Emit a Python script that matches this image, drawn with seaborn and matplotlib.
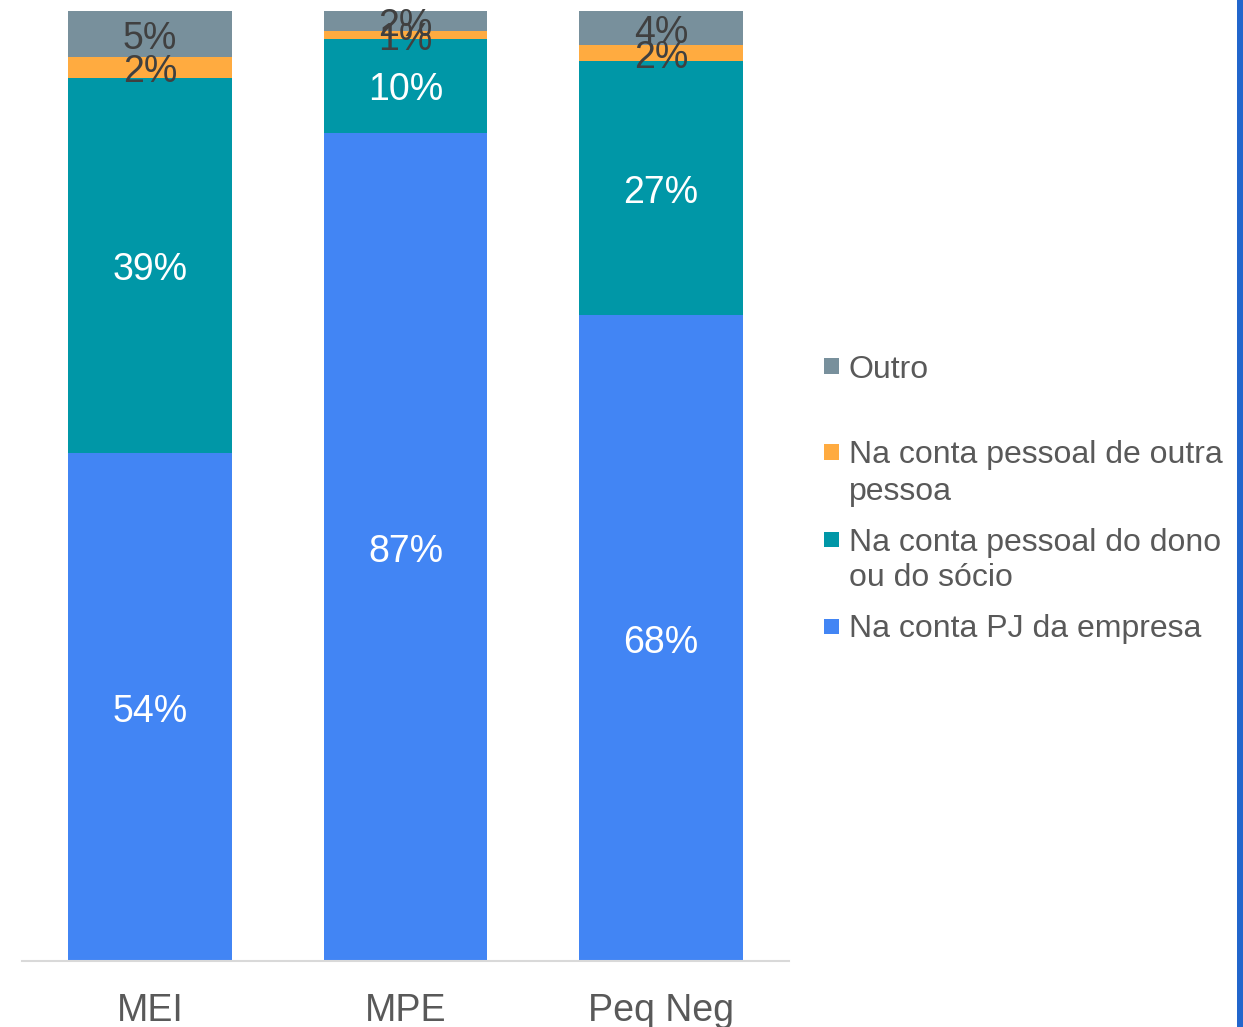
import matplotlib
matplotlib.use("Agg")
import matplotlib.pyplot as plt
from matplotlib.patches import Rectangle
import numpy as np
import pandas as pd
import seaborn as sns

# ---- data ----
categories = ["MEI", "MPE", "Peq Neg"]
series_names = ["Na conta PJ da empresa",
                "Na conta pessoal do dono\nou do sócio",
                "Na conta pessoal de outra\npessoa",
                "Outro"]
pj_empresa = [53.5, 87.2, 68.0]
pessoal_dono = [39.4, 9.9, 26.7]
pessoal_outra = [2.3, 0.8, 1.7]
outro = [4.8, 2.1, 3.6]

colors = ["#4285F4", "#0097A7", "#FFAB40", "#78909C"]
label_colors = ["white", "white", "#404040", "#404040"]

sns.set_theme(style="white")
plt.rcParams["font.family"] = ["Liberation Sans", "DejaVu Sans"]

W, H = 1243, 1027
fig = plt.figure(figsize=(W / 100, H / 100), dpi=100)
ax = fig.add_axes([22 / W, (H - 961) / H, (789 - 22) / W, (961 - 11) / H])

layers = [pj_empresa, pessoal_dono, pessoal_outra, outro]
cum = np.cumsum(np.array(layers), axis=0)

# draw from top-most cumulative down so lower segments overlay
containers = {}
for i in reversed(range(len(layers))):
    df = pd.DataFrame({"cat": categories, "val": cum[i]})
    sns.barplot(data=df, x="cat", y="val", order=categories, color=colors[i],
                saturation=1, width=0.64, ax=ax, linewidth=0, zorder=2 + (len(layers) - i))
    containers[i] = ax.containers[-1]

# labels centred in segments
for i, vals in enumerate(layers):
    for j, patch in enumerate(containers[i].patches):
        v = vals[j]
        yc = cum[i][j] - v / 2
        xc = patch.get_x() + patch.get_width() / 2
        ax.annotate(f"{int(v + 0.5)}%", (xc, yc), xytext=(0, -3.5),
                    textcoords="offset points", ha="center", va="center",
                    fontsize=27, color=label_colors[i], zorder=20)

ax.set_xlim(-0.5, 2.5)
ax.set_ylim(0, 100)
ax.set_xlabel("")
ax.set_ylabel("")
ax.set_yticks([])
for s in ["top", "right", "left"]:
    ax.spines[s].set_visible(False)
ax.spines["bottom"].set_color("#D9D9D9")
ax.spines["bottom"].set_linewidth(1.5)
ax.spines["bottom"].set_zorder(30)
ax.tick_params(axis="x", length=0, pad=23, labelsize=27, labelcolor="#595959")

# ---- legend (manual, Excel-like) ----
leg_centers = [626, 539, 452, 366]  # first-line centre for each series (pixel rows)
line_h = 36
for i, name in enumerate(series_names):
    yc = leg_centers[i]
    fig.add_artist(Rectangle((824 / W, (H - yc - 7.5) / H), 15 / W, 15 / H,
                             transform=fig.transFigure, color=colors[i], lw=0))
    for k, line in enumerate(name.split("\n")):
        base = yc + 11.5 + k * line_h
        fig.text(849 / W, (H - base) / H, line, ha="left", va="baseline",
                 fontsize=23, color="#595959")

# right-edge blue stripe as in the reference screenshot
fig.add_artist(Rectangle((1237 / W, 0), 6 / W, 1, transform=fig.transFigure,
                         color="#2266CC", lw=0))

fig.savefig("out.png", dpi=100)
